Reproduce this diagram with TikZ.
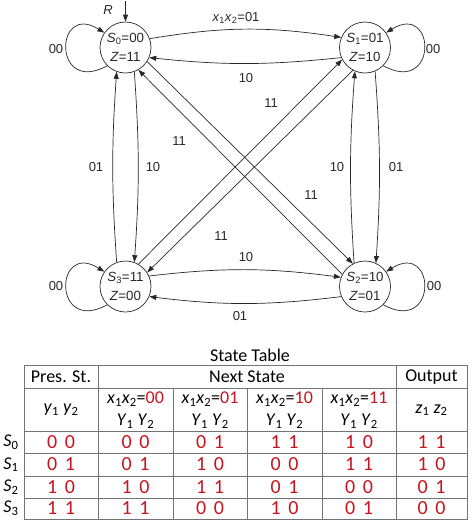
\documentclass[tikz,border=0pt]{standalone}
\usepackage{fontspec}
\setmainfont{Liberation Sans}
\newfontfamily\calib{Carlito}
\usetikzlibrary{arrows.meta}
\definecolor{tred}{RGB}{200,20,30}
\definecolor{ink}{RGB}{40,40,40}
\newcommand\dpair[2]{#1\hspace{0.38em}#2}
\begin{document}
\begin{tikzpicture}[x=1pt,y=1pt,
  st/.style={circle,draw=ink,line width=0.7pt,minimum size=51pt,inner sep=0pt,align=center,text=ink,font=\fontsize{13.3}{19}\selectfont},
  tr/.style={draw=ink,line width=0.7pt,-{Triangle[length=7pt,width=5pt]}},
  lbl/.style={font=\fontsize{13}{14}\selectfont,inner sep=0pt,text=ink},
  th/.style={font=\calib\fontsize{18}{22}\selectfont,inner sep=0pt,align=center},
  td/.style={font=\calib\fontsize{20}{22}\selectfont,text=tred,inner sep=0pt},
  gridline/.style={draw=black!55,line width=1pt}
]
\useasboundingbox (0,0) rectangle (474,-523);
% states
\node[st] (S0) at (125.5,-47.5) {\textit{S}\textsubscript{0}=00\\\textit{Z}=11};
\node[st] (S1) at (365,-47.5) {\textit{S}\textsubscript{1}=01\\\textit{Z}=10};
\node[st] (S2) at (365,-286.5) {\textit{S}\textsubscript{2}=10\\\textit{Z}=01};
\node[st] (S3) at (125.5,-286.5) {\textit{S}\textsubscript{3}=11\\\textit{Z}=00};
% reset
\coordinate (Rs) at (125.5,-1);
\draw[tr] (Rs) -- (S0.north);
\node[lbl] (R) at (108,-10) {\textit{R}};
% self loops
\draw[tr] (S0.225) .. controls +(-55,-30) and +(-50,31) .. (S0.145);
\draw[tr] (S3.225) .. controls +(-55,-30) and +(-50,31) .. (S3.145);
\draw[tr] (S1.-45) .. controls +(55,-30) and +(50,31) .. (S1.35);
\draw[tr] (S2.-45) .. controls +(55,-30) and +(50,31) .. (S2.35);
\node[lbl] (l00a) at (56,-49) {00};
\node[lbl] (l00b) at (433,-49) {00};
\node[lbl] (l00c) at (56,-286) {00};
\node[lbl] (l00d) at (434,-286) {00};
% horizontal
\draw[tr] (S0.20) to[bend left=9] (S1.157);
\draw[tr] (S1.203) to[bend left=6] (S0.-23);
\draw[tr] (S3.24) to[bend left=7] (S2.159);
\draw[tr] (S2.203) to[bend left=7] (S3.-23);
\node[lbl] (lt) at (236,-18) {\textit{x}\textsubscript{1}\textit{x}\textsubscript{2}=01};
\node[lbl] (l10a) at (246,-78) {10};
\node[lbl] (l10b) at (246,-257) {10};
\node[lbl] (l01a) at (240,-316) {01};
% vertical
\draw[tr] (S3.110) to[bend left=4] (S0.250);
\draw[tr] (S0.-70) to[bend left=4] (S3.70);
\draw[tr] (S2.115) to[bend left=4] (S1.247);
\draw[tr] (S1.-67) to[bend left=4] (S2.65);
\node[lbl] (l01b) at (96,-167) {01};
\node[lbl] (l10c) at (153,-167) {10};
\node[lbl] (l10d) at (337,-167) {10};
\node[lbl] (l01c) at (396,-167) {01};
% diagonals
\draw[tr] (S0.-33) -- (S2.118);
\draw[tr] (S2.152) -- (S0.-60);
\draw[tr] (S3.60) -- (S1.208);
\draw[tr] (S1.242) -- (S3.33);
\node[lbl] (l11a) at (271,-103) {11};
\node[lbl] (l11b) at (179,-141) {11};
\node[lbl] (l11c) at (311,-195) {11};
\node[lbl] (l11d) at (221,-236) {11};
% table
\node[th] (title) at (250,-355) {State Table};
\draw[gridline] (24,-365) rectangle (467,-519);
\foreach \yy in {388,431,453,476,498} \draw[gridline] (24,-\yy) -- (467,-\yy);
\foreach \xx in {98,396} \draw[gridline] (\xx,-365) -- (\xx,-519);
\foreach \xx in {173,247,322} \draw[gridline] (\xx,-388) -- (\xx,-519);
\node[th] (hp) at (61,-377) {Pres. St.};
\node[th] (hn) at (247,-377) {Next State};
\node[th] (ho) at (431.5,-377) {Output};
\node[th] (hy) at (61,-410) {\textit{y}\textsubscript{1} \textit{y}\textsubscript{2}};
\node[th] (hz) at (431.5,-410) {\textit{z}\textsubscript{1} \textit{z}\textsubscript{2}};
\foreach \cx/\code in {135.5/00,210/01,284.5/10,359/11}
  \node[th] (hx\code) at (\cx,-410) {\textit{x}\textsubscript{1}\textit{x}\textsubscript{2}=\textcolor{tred}{\code}\\\textit{Y}\textsubscript{1} \textit{Y}\textsubscript{2}};
\foreach \r/\yy/\a/\b/\c/\d/\e/\f in {0/442/{\dpair00}/{\dpair00}/{\dpair01}/{\dpair11}/{\dpair10}/{\dpair11},1/464.5/{\dpair01}/{\dpair01}/{\dpair10}/{\dpair00}/{\dpair11}/{\dpair10},2/487/{\dpair10}/{\dpair10}/{\dpair11}/{\dpair01}/{\dpair00}/{\dpair01},3/508.5/{\dpair11}/{\dpair11}/{\dpair00}/{\dpair10}/{\dpair01}/{\dpair00}}{
  \node[th] (s\r) at (11,-\yy) {\textit{S}\textsubscript{\r}};
  \node[td] (d\r a) at (61,-\yy) {\a};
  \node[td] (d\r b) at (135.5,-\yy) {\b};
  \node[td] (d\r c) at (210,-\yy) {\c};
  \node[td] (d\r d) at (284.5,-\yy) {\d};
  \node[td] (d\r e) at (359,-\yy) {\e};
  \node[td] (d\r f) at (431.5,-\yy) {\f};
}
\end{tikzpicture}
\end{document}
